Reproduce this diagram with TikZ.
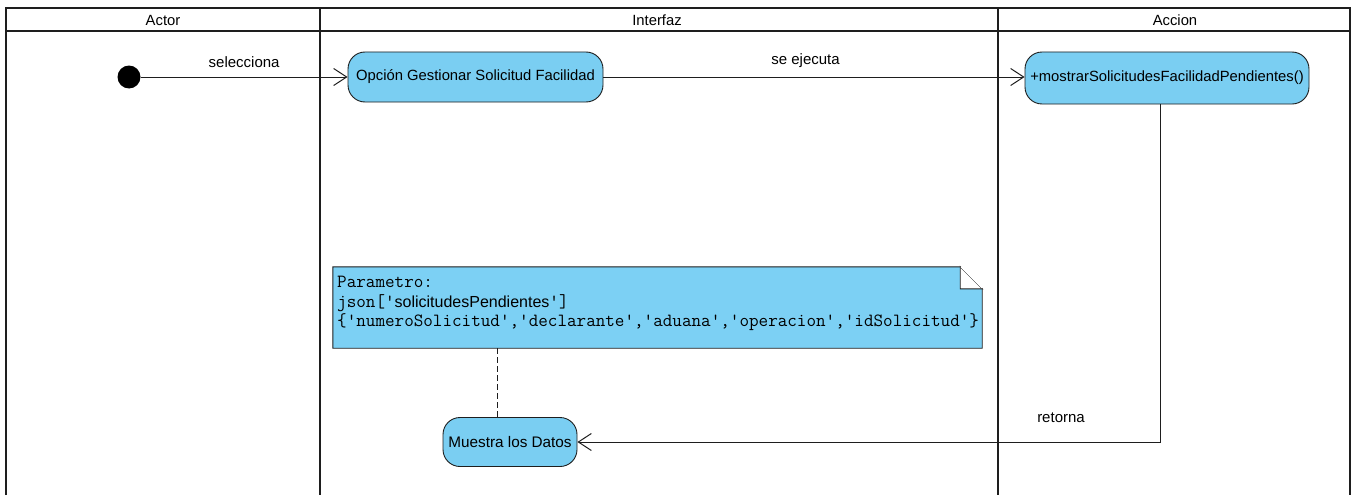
\documentclass[tikz,border=0pt]{standalone}
\usepackage{fontspec}
\setmainfont{Liberation Sans}
\usetikzlibrary{arrows.meta,backgrounds}
\definecolor{actfill}{RGB}{122,206,242}
\definecolor{notefill}{RGB}{124,208,244}
\definecolor{lineclr}{RGB}{30,30,30}
\tikzset{
  act/.style={draw=lineclr,line width=0.9pt,fill=actfill,rounded corners=17pt,font=\fontsize{14.8}{16}\selectfont,inner sep=0pt},
  flow/.style={draw=lineclr,line width=0.9pt,-{Straight Barb[length=13pt,width=17pt,line width=1pt]}},
  lane/.style={draw=lineclr,line width=2pt},
  frame/.style={draw=lineclr,line width=1.3pt},
  lbl/.style={font=\fontsize{15}{16}\selectfont,inner sep=0pt},
  hdr/.style={font=\fontsize{14.8}{16}\selectfont,inner sep=0pt},
}
\begin{document}
\begin{tikzpicture}[x=1pt,y=-1pt]
\useasboundingbox (0,0) rectangle (1356,495);
% swimlane frame
\coordinate (tl) at (6,8);
\coordinate (tr) at (1350,8);
\coordinate (bl) at (6,495);
\coordinate (br) at (1350,495);
\coordinate (h1) at (6,31);
\coordinate (h2) at (1350,31);
\coordinate (d1t) at (320,8);
\coordinate (d1b) at (320,495);
\coordinate (d2t) at (998,8);
\coordinate (d2b) at (998,495);
\draw[frame] (bl) -- (tl) -- (tr) -- (br);
\draw[frame] (h1) -- (h2);
\draw[lane] (d1t) -- (d1b);
\draw[lane] (d2t) -- (d2b);
\node[hdr] (hactor) at (163,20) {Actor};
\node[hdr] (hinter) at (657,20) {Interfaz};
\node[hdr] (haccion) at (1175,20) {Accion};
% nodes
\node[circle,fill=black,minimum size=23pt,inner sep=0pt] (start) at (129,77) {};
\node[act,minimum width=255pt,minimum height=50pt] (opc) at (475.5,77) {Opción Gestionar Solicitud Facilidad};
\node[act,minimum width=284pt,minimum height=52pt] (mostrar) at (1167,78) {+mostrarSolicitudesFacilidadPendientes()};
\node[act,minimum width=134pt,minimum height=49pt,font=\fontsize{15.3}{16}\selectfont] (muestra) at (510,442) {Muestra los Datos};
% note
\node[minimum width=649pt,minimum height=81pt,inner sep=0pt] (note) at (657.5,307.5) {};
\begin{scope}[on background layer]
\draw[draw=lineclr,line width=0.9pt,fill=notefill]
  (note.south west) -- (note.north west) -- ([xshift=-22pt]note.north east)
  -- ([yshift=-22pt]note.north east) -- (note.south east) -- cycle;
\draw[draw=lineclr,line width=0.9pt,fill=white]
  ([xshift=-22pt]note.north east) -- ([yshift=-22pt]note.north east) -- ([xshift=-22pt,yshift=-22pt]note.north east) -- cycle;
\fill[white] ([xshift=-22pt]note.north east) -- (note.north east) -- ([yshift=-22pt]note.north east) -- cycle;
\end{scope}
\node[anchor=north west,align=left,inner sep=0pt,font=\ttfamily\fontsize{18.6}{19.5}\selectfont] (notetext) at (337,276)
{Parametro:\\json['{\rmfamily\fontsize{16}{19.5}\selectfont solicitudesPendientes}']\\\{'numeroSolicitud','declarante','aduana','operacion','idSolicitud'\}};
% connectors
\draw[flow] (start) -- (opc.west) node[lbl,pos=0.5,above=9pt] (lsel) {selecciona};
\draw[flow] (opc.east) -- (opc.east -| mostrar.west) node[lbl,pos=0.48,above=9pt] (lse) {se ejecuta};
\coordinate (retstart) at ([xshift=-7pt]mostrar.south);
\draw[flow] (retstart) |- (muestra.east);
\node[lbl] (lret) at (1061,418) {retorna};
\coordinate (notelink) at (497,348);
\draw[draw=lineclr,line width=0.9pt,dashed,dash pattern=on 6pt off 3pt] (notelink) -- (notelink |- muestra.north);
\end{tikzpicture}
\end{document}
